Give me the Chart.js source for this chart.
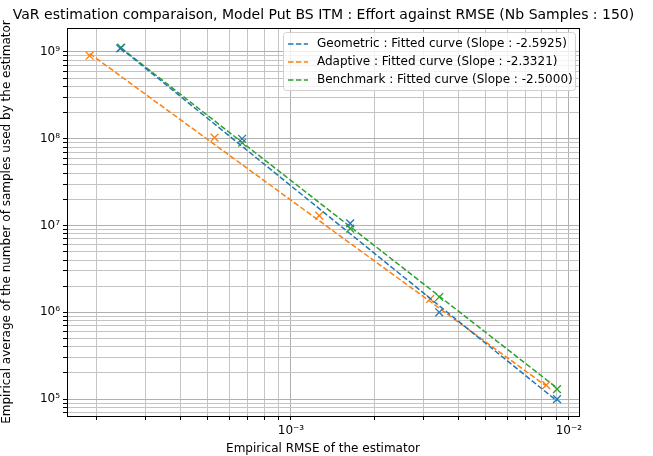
<!DOCTYPE html>
<html>
<head>
<meta charset="utf-8">
<script src="https://cdn.jsdelivr.net/npm/chart.js@4"></script>
<style>
  html, body { margin: 0; padding: 0; background: #fff; }
  #wrap { width: 653px; height: 456px; position: relative; }
</style>
</head>
<body>
<div id="wrap"><canvas id="chart"></canvas></div>
<script>
const TITLE = "VaR estimation comparaison, Model Put BS ITM : Effort against RMSE (Nb Samples : 150)";
const X_LABEL = "Empirical RMSE of the estimator";
const Y_LABEL = "Empirical average of the number of samples used by the estimator";

// measured points (RMSE, effort)
const geoRmse = [2.43e-4, 6.67e-4, 1.633e-3, 3.415e-3, 9.06e-3];
const geoEffort = [1.1e9, 1.0e8, 1.06e7, 1.0e6, 1.0e5];
const adaRmse = [1.886e-4, 5.31e-4, 1.264e-3, 3.17e-3, 8.29e-3];
const adaEffort = [9.06e8, 1.03e8, 1.3e7, 1.43e6, 1.45e5];
const benRmse = [2.45e-4, 6.67e-4, 1.633e-3, 3.415e-3, 9.06e-3];
const benEffort = [1.12e9, 9.0e7, 9.2e6, 1.5e6, 1.3e5];

// fitted curves at both ends
const geoFitRmse = [2.43e-4, 9.06e-3];
const geoFitEffort = [1.12e9, 9.5e4];
const adaFitRmse = [1.886e-4, 8.29e-3];
const adaFitEffort = [9.6e8, 1.41e5];
const benFitRmse = [2.45e-4, 9.06e-3];
const benFitEffort = [1.11e9, 1.34e5];

const legendLabels = [
  "Geometric : Fitted curve (Slope : -2.5925)",
  "Adaptive : Fitted curve (Slope : -2.3321)",
  "Benchmark : Fitted curve (Slope : -2.5000)",
];

const xMajorTicks = [1e-3, 1e-2];
const xMajorLabels = ["10\u207B\u00B3", "10\u207B\u00B2"];
const yMajorTicks = [1e5, 1e6, 1e7, 1e8, 1e9];
const yMajorLabels = ["10\u2075", "10\u2076", "10\u2077", "10\u2078", "10\u2079"];

const X_MIN = 1.564e-4, X_MAX = 1.087e-2;
const Y_MIN = 6.38e4, Y_MAX = 1.89e9;

const COLORS = {
  blue: "#1f77b4",
  orange: "#ff7f0e",
  green: "#2ca02c",
  major: "#b0b0b0",
  minor: "#c4c4c4",
};

const FONT = "'DejaVu Sans', sans-serif";

// ── helpers ──

function pts(xs, ys) {
  return xs.map((x, i) => ({ x: x, y: ys[i] }));
}

function logTicks(min, max) {
  const out = [];
  for (let e = Math.floor(Math.log10(min)); e <= Math.ceil(Math.log10(max)); e++) {
    for (let m = 1; m <= 9; m++) {
      const v = m * Math.pow(10, e);
      if (v >= min && v <= max) out.push({ value: v, major: m === 1 });
    }
  }
  return out;
}

function majorLabel(value, majors, labels) {
  for (let i = 0; i < majors.length; i++) {
    if (Math.abs(value / majors[i] - 1) < 1e-6) return labels[i];
  }
  return "";
}

function fitSet(label, xs, ys, color) {
  return {
    type: "line",
    label: label,
    data: pts(xs, ys),
    borderColor: color,
    borderWidth: 1.5,
    borderDash: [5.5, 2.4],
    pointRadius: 0,
    fill: false,
    isFit: true,
  };
}

function markSet(xs, ys, color) {
  return {
    type: "scatter",
    label: "",
    data: pts(xs, ys),
    borderColor: color,
    backgroundColor: color,
    pointStyle: "crossRot",
    pointRadius: 5.5,
    borderWidth: 1.3,
    showLine: false,
  };
}

// ── plugins ──

const framePlugin = {
  id: "frame",
  afterDraw(chart) {
    const { ctx, chartArea: a } = chart;
    ctx.save();
    ctx.strokeStyle = "#000";
    ctx.lineWidth = 1;
    ctx.strokeRect(Math.round(a.left) + 0.5, Math.round(a.top) + 0.5,
      Math.round(a.right - a.left), Math.round(a.bottom - a.top));

    ctx.fillStyle = "#000";
    ctx.font = "14px " + FONT;
    ctx.textAlign = "center";
    ctx.textBaseline = "middle";
    ctx.fillText(TITLE, 323.5, 15);

    // legend box
    const bx = 283, by = 32, bw = 292, bh = 58;
    ctx.fillStyle = "rgba(255,255,255,0.8)";
    ctx.strokeStyle = "#d0d0d0";
    ctx.beginPath();
    ctx.roundRect(bx + 0.5, by + 0.5, bw, bh, 3);
    ctx.fill();
    ctx.stroke();

    const fits = chart.data.datasets.filter((d) => d.isFit);
    ctx.font = "12px " + FONT;
    ctx.textAlign = "left";
    fits.forEach((d, i) => {
      const y = by + 12 + i * 18;
      ctx.strokeStyle = d.borderColor;
      ctx.lineWidth = 1.5;
      ctx.setLineDash(d.borderDash);
      ctx.beginPath();
      ctx.moveTo(bx + 5, y);
      ctx.lineTo(bx + 25, y);
      ctx.stroke();
      ctx.setLineDash([]);
      ctx.fillStyle = "#000";
      ctx.fillText(d.label, bx + 34, y);
    });
    ctx.restore();
  },
};

// ── chart ──

const ctx = document.getElementById("chart");

new Chart(ctx, {
  data: {
    datasets: [
      markSet(geoRmse, geoEffort, COLORS.blue),
      fitSet(legendLabels[0], geoFitRmse, geoFitEffort, COLORS.blue),
      markSet(adaRmse, adaEffort, COLORS.orange),
      fitSet(legendLabels[1], adaFitRmse, adaFitEffort, COLORS.orange),
      markSet(benRmse, benEffort, COLORS.green),
      fitSet(legendLabels[2], benFitRmse, benFitEffort, COLORS.green),
    ],
  },
  options: {
    responsive: true,
    maintainAspectRatio: false,
    animation: false,
    layout: { padding: { top: 28, right: 74, left: 0, bottom: 0 } },
    plugins: {
      legend: { display: false },
      title: { display: false },
      tooltip: { enabled: false },
    },
    scales: {
      x: {
        type: "logarithmic",
        min: X_MIN,
        max: X_MAX,
        afterBuildTicks: (s) => { s.ticks = logTicks(X_MIN, X_MAX); },
        afterFit: (s) => { s.height = 40; },
        ticks: {
          autoSkip: false,
          maxRotation: 0,
          color: "#000",
          font: { family: FONT, size: 12 },
          padding: 4,
          callback: (v) => majorLabel(v, xMajorTicks, xMajorLabels),
        },
        grid: {
          color: (c) => (c.tick && c.tick.major ? COLORS.major : COLORS.minor),
          tickColor: "#000",
          tickLength: 4,
        },
        border: { display: true, color: "#000" },
        title: {
          display: true,
          text: X_LABEL,
          color: "#000",
          font: { family: FONT, size: 12 },
          padding: { top: 2, bottom: 0 },
        },
      },
      y: {
        type: "logarithmic",
        min: Y_MIN,
        max: Y_MAX,
        afterBuildTicks: (s) => { s.ticks = logTicks(Y_MIN, Y_MAX); },
        afterFit: (s) => { s.width = 67; },
        ticks: {
          autoSkip: false,
          color: "#000",
          font: { family: FONT, size: 12 },
          padding: 3,
          callback: (v) => majorLabel(v, yMajorTicks, yMajorLabels),
        },
        grid: {
          color: (c) => (c.tick && c.tick.major ? COLORS.major : COLORS.minor),
          tickColor: "#000",
          tickLength: 4,
        },
        border: { display: true, color: "#000" },
        title: {
          display: true,
          text: Y_LABEL,
          color: "#000",
          font: { family: FONT, size: 12 },
          padding: { top: 0, bottom: 0 },
        },
      },
    },
  },
  plugins: [framePlugin],
});
</script>
</body>
</html>
